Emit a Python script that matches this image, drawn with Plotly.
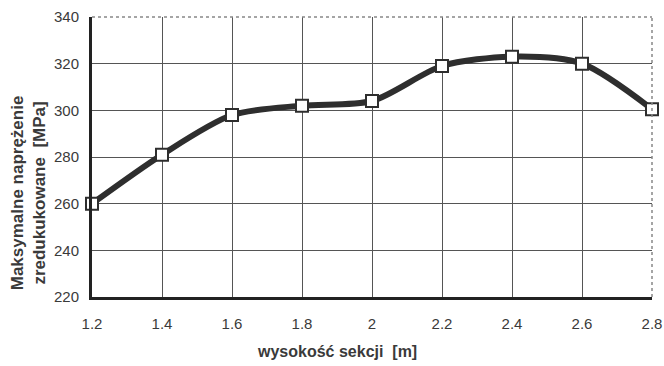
import plotly.graph_objects as go

heights = [1.2, 1.4, 1.6, 1.8, 2.0, 2.2, 2.4, 2.6, 2.8]
stress = [260, 281, 298, 302, 304, 319, 323, 320, 300.5]
x_ticks = [1.2, 1.4, 1.6, 1.8, 2.0, 2.2, 2.4, 2.6, 2.8]
x_tick_labels = ["1.2", "1.4", "1.6", "1.8", "2", "2.2", "2.4", "2.6", "2.8"]
y_ticks = [220, 240, 260, 280, 300, 320, 340]
x_title = "wysokość sekcji  [m]"
y_title = "Maksymalne naprężenie<br>zredukukowane  [MPa]"

font_family = "Liberation Sans, Arial, sans-serif"

fig = go.Figure()
fig.add_trace(go.Scatter(
    x=heights, y=stress, mode="lines+markers",
    line=dict(color="#2e2e2e", width=6, shape="spline", smoothing=0.8),
    marker=dict(symbol="square", size=12, color="white",
                line=dict(color="#2e2e2e", width=2)),
    cliponaxis=False, showlegend=False,
))

fig.update_layout(
    width=664, height=366,
    margin=dict(l=92, r=12, t=17, b=69),
    paper_bgcolor="white", plot_bgcolor="white",
    font=dict(family=font_family, size=15, color="#3a3a3a"),
    xaxis=dict(
        range=[1.2, 2.8], tickvals=x_ticks, ticktext=x_tick_labels,
        showgrid=True, gridcolor="#555555", gridwidth=1,
        showline=True, linecolor="#222222", linewidth=3,
        ticks="", zeroline=False, automargin=False,
        ticklabelstandoff=11,
        tickfont=dict(size=15, color="#3a3a3a"),
    ),
    yaxis=dict(
        range=[220, 340], tickvals=y_ticks,
        showgrid=True, gridcolor="#555555", gridwidth=1,
        showline=True, linecolor="#222222", linewidth=3,
        ticks="", zeroline=False, automargin=False,
        ticklabelstandoff=7,
        tickfont=dict(size=15, color="#3a3a3a"),
    ),
    shapes=[
        dict(type="line", xref="paper", yref="paper", x0=0, x1=1, y0=1, y1=1,
             line=dict(color="#888888", width=1.5, dash="dot")),
        dict(type="line", xref="paper", yref="paper", x0=1, x1=1, y0=0, y1=1,
             line=dict(color="#888888", width=1.5, dash="dot")),
    ],
    annotations=[
        dict(text="<b>" + x_title + "</b>", xref="paper", yref="paper",
             x=0.4375, y=-0.196, xanchor="center", yanchor="middle",
             showarrow=False, font=dict(size=16, color="#3a3a3a")),
        dict(text="<b>" + y_title + "</b>", xref="paper", yref="paper",
             x=-0.114, y=0.371, xanchor="center", yanchor="middle",
             textangle=-90, showarrow=False,
             font=dict(size=17, color="#3a3a3a")),
    ],
)

fig.write_html(
    "out.html",
    config={"displayModeBar": False},
    post_script="document.body.style.margin='0';document.body.style.overflow='hidden';",
)
